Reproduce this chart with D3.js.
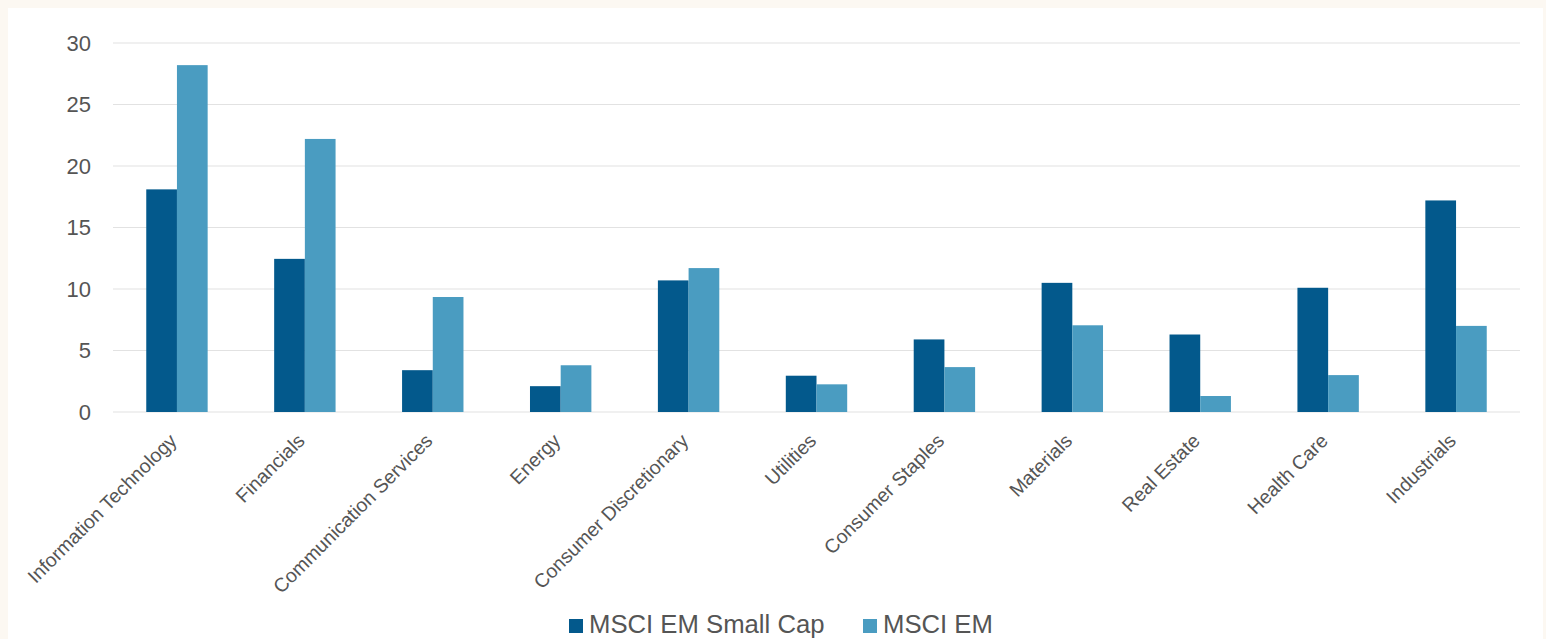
<!DOCTYPE html>
<html lang="en">
<head>
    <meta charset="UTF-8">
    <title>MSCI EM Small Cap vs MSCI EM - sector weights</title>
    <script src="https://d3js.org/d3.v7.min.js"></script>
    <style>
        html, body { margin: 0; padding: 0; background: #fcf8f2; }
        svg { display: block; }
        .tick text { font-family: "Liberation Sans", Arial, sans-serif; fill: #555555; }
        .legend text { font-family: "Liberation Sans", Arial, sans-serif; fill: #555555; }
    </style>
</head>
<body>
<svg width="1546" height="639"></svg>
<script>
    const sectors = ["Information Technology", "Financials", "Communication Services", "Energy",
        "Consumer Discretionary", "Utilities", "Consumer Staples", "Materials",
        "Real Estate", "Health Care", "Industrials"];
    const smallCap = [18.1, 12.45, 3.4, 2.1, 10.7, 2.95, 5.9, 10.5, 6.3, 10.1, 17.2];
    const msciEm = [28.2, 22.2, 9.35, 3.8, 11.7, 2.25, 3.65, 7.05, 1.3, 3.0, 7.0];
    const seriesNames = ["MSCI EM Small Cap", "MSCI EM"];
    const colors = ["#03598c", "#4a9cc1"];
    const yTicks = [0, 5, 10, 15, 20, 25, 30];

    const svg = d3.select("svg");

    // white panel on cream page
    svg.append("rect")
        .attr("x", 8).attr("y", 8)
        .attr("width", 1535).attr("height", 640)
        .attr("fill", "#ffffff");

    const plotLeft = 113, plotRight = 1520, plotTop = 43, plotBottom = 412;

    const x = d3.scaleBand()
        .domain(sectors)
        .range([plotLeft, plotRight])
        .padding(0);

    const y = d3.scaleLinear()
        .domain([0, 30])
        .range([plotBottom, plotTop]);

    const barW = x.bandwidth() * 0.24;

    // gridlines
    svg.append("g")
        .selectAll("line")
        .data(yTicks)
        .enter().append("line")
        .attr("x1", plotLeft)
        .attr("x2", plotRight)
        .attr("y1", d => y(d))
        .attr("y2", d => y(d))
        .attr("stroke", "#e2e2e2")
        .attr("stroke-width", 1.2);

    // y axis labels
    const yAxis = svg.append("g")
        .attr("transform", `translate(${plotLeft - 22},0)`)
        .call(d3.axisLeft(y).tickValues(yTicks).tickSize(0).tickPadding(0));
    yAxis.select(".domain").remove();
    yAxis.selectAll("text").style("font-size", "22px");

    // bars
    const groups = svg.append("g")
        .selectAll("g")
        .data(sectors)
        .enter().append("g")
        .attr("transform", d => `translate(${x(d) + x.bandwidth() / 2},0)`);

    groups.append("rect")
        .attr("x", -barW)
        .attr("y", (d, i) => y(smallCap[i]))
        .attr("width", barW)
        .attr("height", (d, i) => y(0) - y(smallCap[i]))
        .attr("fill", colors[0]);

    groups.append("rect")
        .attr("x", 0)
        .attr("y", (d, i) => y(msciEm[i]))
        .attr("width", barW)
        .attr("height", (d, i) => y(0) - y(msciEm[i]))
        .attr("fill", colors[1]);

    // x axis labels, rotated
    const xAxis = svg.append("g")
        .attr("transform", `translate(0,${plotBottom})`)
        .call(d3.axisBottom(x).tickSize(0).tickPadding(0));
    xAxis.select(".domain").remove();
    xAxis.selectAll("text")
        .style("font-size", "19.5px")
        .attr("text-anchor", "end")
        .attr("dy", null)
        .attr("y", 0)
        .attr("transform", "translate(1,30) rotate(-45)");

    // legend
    const legend = svg.append("g").attr("class", "legend");
    const legendX = [569, 863];
    seriesNames.forEach((name, i) => {
        legend.append("rect")
            .attr("x", legendX[i]).attr("y", 619)
            .attr("width", 14).attr("height", 14)
            .attr("fill", colors[i]);
        legend.append("text")
            .attr("x", legendX[i] + 20).attr("y", 633)
            .style("font-size", "25.7px")
            .text(name);
    });
</script>
</body>
</html>
